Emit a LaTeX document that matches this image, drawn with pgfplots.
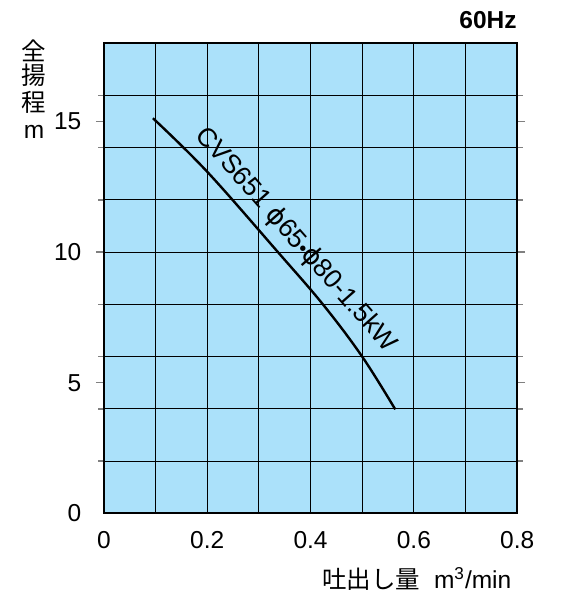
\documentclass[border=0pt]{standalone}
\usepackage{pgfplots}
\pgfplotsset{compat=1.18}
\usepackage{fontspec}
\setmainfont{Liberation Sans}
\newfontfamily\cjk{Noto Sans CJK JP}
\newfontfamily\dejavu{DejaVu Sans}
\definecolor{bgblue}{RGB}{171,225,250}
\begin{document}
\fontsize{12.25}{14}\selectfont
\begin{tikzpicture}
\useasboundingbox (-51.95pt,-40.85pt) rectangle (229.05pt,256.65pt);
\begin{axis}[
  at={(0pt,0pt)}, anchor=south west,
  scale only axis, width=206.65pt, height=235pt,
  xmin=0, xmax=0.8, ymin=0, ymax=18,
  xtick={0,0.2,0.4,0.6,0.8},
  minor xtick={0.1,0.3,0.5,0.7},
  ytick={5,10,15},
  minor ytick={2,4,6,8,10,12,14,16},
  extra y ticks={0},
  extra y tick style={major tick length=0pt, ymajorgrids=false, yticklabel style={xshift=-4pt}},
  xmajorgrids=true, xminorgrids=true,
  ymajorgrids=false, yminorgrids=true,
  grid style={black, line width=0.5pt},
  minor grid style={black, line width=0.5pt},
  xtick style={draw=none},
  minor tick style={draw=none},
  ytick style={draw=gray, line width=0.7pt},
  tick align=outside,
  major tick length=4pt,
  axis line style={black, line width=1.1pt},
  axis background/.style={fill=bgblue},
  tick label style={font=\fontsize{12.25}{14}\selectfont},
  /pgf/number format/assume math mode=true,
  xticklabel style={yshift=-1pt},
  yticklabel style={xshift=-3pt},
  clip=false,
]
\addplot[black, line width=1.2pt, smooth, tension=0.6] coordinates {
(0.095,15.13) (0.200,13.08) (0.337,10.0) (0.424,8.0) (0.500,6.0) (0.564,3.98)
};
\node[rotate=-48.6, inner sep=0pt] at (axis cs:0.372,10.47)
  {\fontsize{13.2}{15}\selectfont CVS651 {\dejavu ϕ}65{\fontsize{10}{10}\selectfont •}{\dejavu ϕ}80-1.5kW};
\end{axis}
\node[anchor=base east, inner sep=0pt, font=\bfseries] at (206.55pt,242.5pt) {60Hz};
\node[font=\cjk, inner sep=0pt] at (-34.95pt,231.25pt) {全};
\node[font=\cjk, inner sep=0pt] at (-34.95pt,219.15pt) {揚};
\node[font=\cjk, inner sep=0pt] at (-34.95pt,205.65pt) {程};
\node[anchor=base, inner sep=0pt] at (-34.95pt,187.5pt) {m};
\node[anchor=base east, inner sep=0pt] at (203.9pt,-37.5pt) {{\cjk 吐出し量}\ \ m\textsuperscript{3}/min};
\end{tikzpicture}
\end{document}
